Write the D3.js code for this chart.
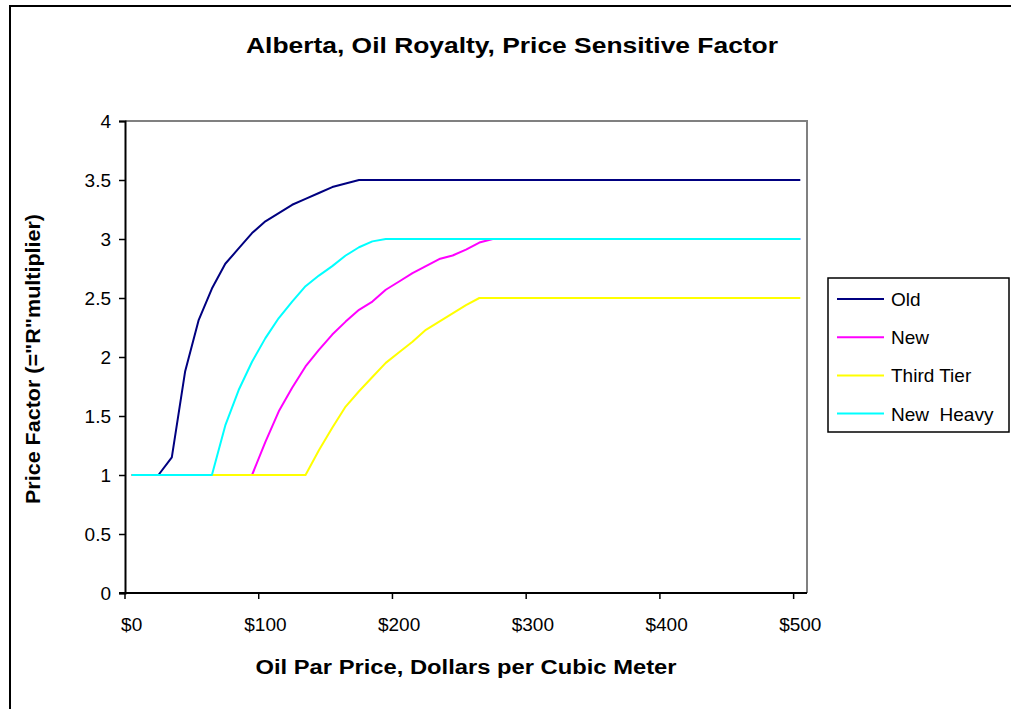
<!DOCTYPE html>
<html>
<head>
<meta charset="utf-8">
<script src="https://cdn.jsdelivr.net/npm/d3@7"></script>
<style>
  body { margin: 0; background: #fff; }
  svg { display: block; }
  text { font-family: "Liberation Sans", Arial, sans-serif; }
</style>
</head>
<body>
<svg id="chart" width="1011" height="709"></svg>
<script>
// ---- data ----
const prices = d3.range(0, 510, 10); // $0 .. $500 step $10 (category axis)
const oldVals = [1,1,1,1.15,1.88,2.31,2.58,2.79,2.92,3.05,3.15,3.22,3.29,3.34,3.39,3.44,3.47,3.5,
  3.5,3.5,3.5,3.5,3.5,3.5,3.5,3.5,3.5,3.5,3.5,3.5,3.5,3.5,3.5,3.5,3.5,3.5,3.5,3.5,3.5,3.5,3.5,3.5,3.5,3.5,3.5,3.5,3.5,3.5,3.5,3.5,3.5];
const newVals = [1,1,1,1,1,1,1,1,1,1,1.28,1.54,1.74,1.92,2.06,2.19,2.30,2.40,2.47,2.57,2.64,2.71,2.77,2.83,2.86,2.91,2.97,3,
  3,3,3,3,3,3,3,3,3,3,3,3,3,3,3,3,3,3,3,3,3,3,3];
const thirdTierVals = [1,1,1,1,1,1,1,1,1,1,1,1,1,1,1.21,1.40,1.58,1.71,1.83,1.95,2.04,2.13,2.23,2.30,2.37,2.44,2.5,
  2.5,2.5,2.5,2.5,2.5,2.5,2.5,2.5,2.5,2.5,2.5,2.5,2.5,2.5,2.5,2.5,2.5,2.5,2.5,2.5,2.5,2.5,2.5,2.5];
const newHeavyVals = [1,1,1,1,1,1,1,1.42,1.72,1.96,2.16,2.33,2.47,2.60,2.69,2.77,2.86,2.93,2.98,3,
  3,3,3,3,3,3,3,3,3,3,3,3,3,3,3,3,3,3,3,3,3,3,3,3,3,3,3,3,3,3,3];
const seriesNames = ["Old", "New", "Third Tier", "New  Heavy"];
const seriesColors = ["#000080", "#FF00FF", "#FFFF00", "#00FFFF"];
const yTicks = [0, 0.5, 1, 1.5, 2, 2.5, 3, 3.5, 4];
const xTickPrices = [0, 100, 200, 300, 400, 500];
const titleText = "Alberta, Oil Royalty, Price Sensitive Factor";
const xTitle = "Oil Par Price, Dollars per Cubic Meter";
const yTitle = "Price Factor (=\"R\"multiplier)";

const seriesData = [oldVals, newVals, thirdTierVals, newHeavyVals];

// ---- layout ----
const svg = d3.select("#chart");
const plot = { left: 125, right: 807, top: 121, bottom: 593 };

const x = d3.scaleBand().domain(prices).range([plot.left, plot.right]).paddingInner(0).paddingOuter(0);
const y = d3.scaleLinear().domain([0, 4]).range([plot.bottom, plot.top]);
const bw = x.bandwidth();

// outer chart border (left + top visible)
svg.append("path")
  .attr("d", `M10,709 L10,6 L1011,6`)
  .attr("fill", "none").attr("stroke", "#000").attr("stroke-width", 2);

// plot area border top/right gray
svg.append("path")
  .attr("d", `M${plot.left},${plot.top} L${plot.right},${plot.top} L${plot.right},${plot.bottom}`)
  .attr("fill", "none").attr("stroke", "#808080").attr("stroke-width", 2);

// Y axis
const yAxis = d3.axisLeft(y).tickValues(yTicks).tickFormat(d3.format("")).tickSize(6).tickPadding(8);
const gy = svg.append("g").attr("transform", `translate(${plot.left},0)`).call(yAxis);
gy.select(".domain").attr("stroke", "#000").attr("stroke-width", 2);
gy.selectAll(".tick line").attr("stroke", "#000").attr("stroke-width", 1.5);
gy.selectAll(".tick text").attr("font-size", 19).attr("fill", "#000")
  .attr("font-family", "'Liberation Sans', Arial, sans-serif");

// X axis (category boundaries as ticks, labels centered on category)
const gx = svg.append("g").attr("transform", `translate(0,${plot.bottom})`);
gx.append("line").attr("x1", plot.left - 6).attr("x2", plot.right).attr("y1", 0).attr("y2", 0)
  .attr("stroke", "#000").attr("stroke-width", 2);
gx.selectAll("line.tick").data(xTickPrices).join("line").attr("class", "tick")
  .attr("x1", d => x(d)).attr("x2", d => x(d)).attr("y1", 0).attr("y2", 6)
  .attr("stroke", "#000").attr("stroke-width", 1.5);
gx.selectAll("text.tl").data(xTickPrices).join("text").attr("class", "tl")
  .attr("x", d => x(d) + bw / 2).attr("y", 38)
  .attr("text-anchor", "middle").attr("font-size", 19).attr("fill", "#000")
  .text(d => "$" + d);

// lines
const line = d3.line().x((d, i) => x(prices[i]) + bw / 2).y(d => y(d));
svg.append("g").selectAll("path").data(seriesData).join("path")
  .attr("d", d => line(d))
  .attr("fill", "none")
  .attr("stroke", (d, i) => seriesColors[i])
  .attr("stroke-width", 2)
  .attr("stroke-linejoin", "round");

// titles
svg.append("text").attr("x", 512).attr("y", 53).attr("text-anchor", "middle")
  .attr("font-size", 22).attr("font-weight", "bold")
  .attr("textLength", 532).attr("lengthAdjust", "spacingAndGlyphs").text(titleText);
svg.append("text").attr("x", 466).attr("y", 674).attr("text-anchor", "middle")
  .attr("font-size", 20).attr("font-weight", "bold")
  .attr("textLength", 421).attr("lengthAdjust", "spacingAndGlyphs").text(xTitle);
svg.append("text").attr("transform", "translate(40,359) rotate(-90)").attr("text-anchor", "middle")
  .attr("font-size", 20).attr("font-weight", "bold")
  .attr("textLength", 290).attr("lengthAdjust", "spacingAndGlyphs").text(yTitle);

// legend
const lg = svg.append("g");
lg.append("rect").attr("x", 828).attr("y", 278).attr("width", 181).attr("height", 154)
  .attr("fill", "#fff").attr("stroke", "#000").attr("stroke-width", 1.5);
const items = lg.selectAll("g.item").data(seriesNames).join("g").attr("class", "item")
  .attr("transform", (d, i) => `translate(0,${299 + i * 38.2})`);
items.append("line").attr("x1", 837).attr("x2", 884).attr("y1", 0).attr("y2", 0)
  .attr("stroke", (d, i) => seriesColors[i]).attr("stroke-width", 2);
items.append("text").attr("x", 891).attr("y", 7).attr("font-size", 19).attr("fill", "#000")
  .attr("xml:space", "preserve").style("white-space", "pre").text(d => d);
</script>
</body>
</html>
